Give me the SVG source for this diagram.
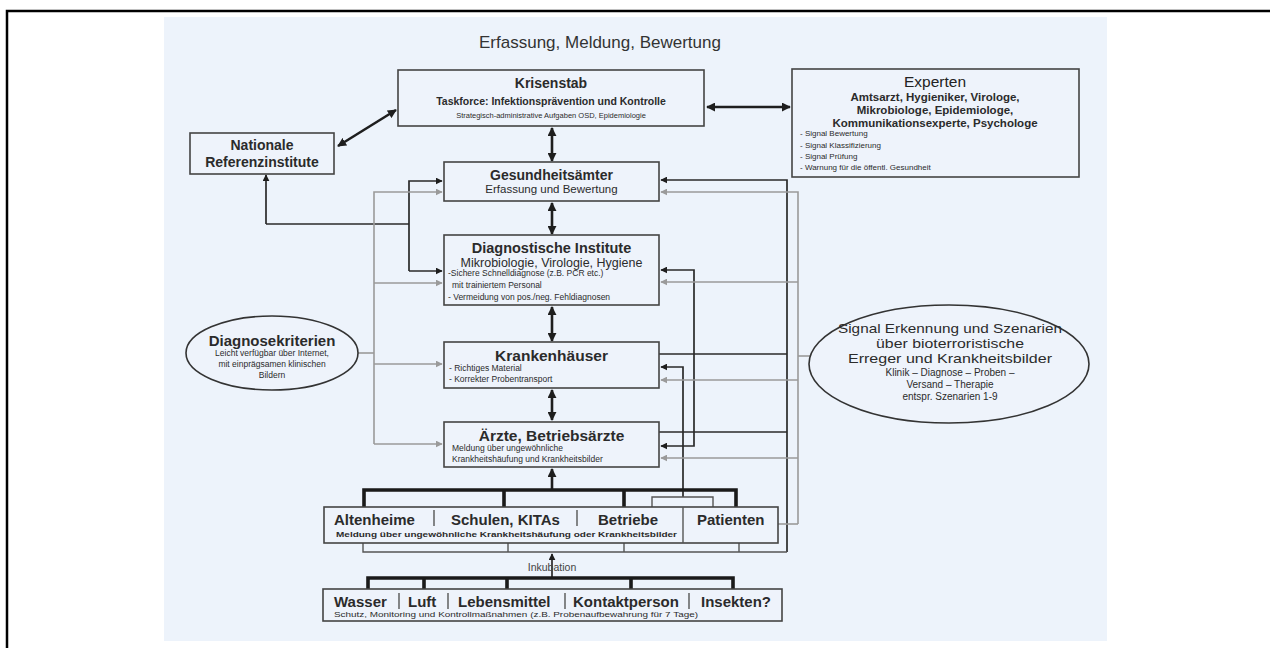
<svg xmlns="http://www.w3.org/2000/svg" width="1270" height="648" viewBox="0 0 1270 648">
<defs>
<style>
text{font-family:"Liberation Sans",Arial,sans-serif;fill:#2b2b2b}
.c{text-anchor:middle}
.b{font-weight:bold}
.box{fill:#eef3fb;stroke:#444;stroke-width:1.6}
.ell{fill:#eef3fb;stroke:#333;stroke-width:1.6}
.k{fill:none;stroke:#2a2a2a;stroke-width:1.7}
.kt{fill:none;stroke:#1e1e1e;stroke-width:2.6}
.g{fill:none;stroke:#9a9a9a;stroke-width:1.6}
.bar{fill:none;stroke:#1a1a1a;stroke-width:3.6}
.thin{fill:none;stroke:#555;stroke-width:1.4}
</style>
<marker id="ab" viewBox="0 0 10 10" refX="9" refY="5" markerWidth="7" markerHeight="7" markerUnits="userSpaceOnUse" orient="auto-start-reverse"><path d="M0,0 L10,5 L0,10 z" fill="#1e1e1e"/></marker>
<marker id="abig" viewBox="0 0 10 10" refX="9" refY="5" markerWidth="9" markerHeight="9" markerUnits="userSpaceOnUse" orient="auto-start-reverse"><path d="M0,0 L10,5 L0,10 z" fill="#1e1e1e"/></marker>
<marker id="ag" viewBox="0 0 10 10" refX="9" refY="5" markerWidth="7" markerHeight="7" markerUnits="userSpaceOnUse" orient="auto-start-reverse"><path d="M0,0 L10,5 L0,10 z" fill="#9a9a9a"/></marker>
</defs>
<rect x="0" y="0" width="1270" height="648" fill="#ffffff"/>
<path d="M7,648 V11 H1270" fill="none" stroke="#000" stroke-width="2.5"/>
<rect x="164" y="17" width="943" height="624" fill="#edf3fb"/>
<text class="c" x="600" y="48" font-size="17" style="fill:#333">Erfassung, Meldung, Bewertung</text>

<g id="connectors">
<line class="kt" x1="338" y1="146" x2="396" y2="110" marker-start="url(#abig)" marker-end="url(#abig)"/>
<line class="kt" x1="707" y1="107" x2="790" y2="107" marker-start="url(#abig)" marker-end="url(#abig)"/>
<line class="kt" x1="552" y1="128" x2="552" y2="161" marker-start="url(#abig)" marker-end="url(#abig)"/>
<line class="kt" x1="552" y1="203" x2="552" y2="234" marker-start="url(#abig)" marker-end="url(#abig)"/>
<line class="kt" x1="552" y1="307" x2="552" y2="341" marker-start="url(#abig)" marker-end="url(#abig)"/>
<line class="kt" x1="552" y1="390" x2="552" y2="420" marker-start="url(#abig)" marker-end="url(#abig)"/>
<line class="kt" x1="552" y1="490" x2="552" y2="469" marker-end="url(#abig)"/>
<line class="k" x1="552" y1="578" x2="552" y2="554" marker-end="url(#ab)"/>
<path class="k" d="M266,224 V175" marker-end="url(#ab)"/>
<path class="k" d="M266,224 H409"/>
<path class="k" d="M409,271 V181 H442" marker-end="url(#ab)"/>
<path class="k" d="M409,271 H442" marker-end="url(#ab)"/>
<path class="g" d="M374,444 V192 H442" marker-end="url(#ag)"/>
<path class="g" d="M374,283 H442" marker-end="url(#ag)"/>
<path class="g" d="M374,364 H442" marker-end="url(#ag)"/>
<path class="g" d="M374,444 H442" marker-end="url(#ag)"/>
<path class="g" d="M358,353 H374"/>
<path class="k" d="M787,552 V180 H661" marker-end="url(#ab)"/>
<path class="k" d="M659,354 H787"/>
<path class="k" d="M659,432 H787"/>
<path class="k" d="M661,270 H694 V446 H661" marker-start="url(#ab)" marker-end="url(#ab)"/>
<path class="k" d="M683,497 V367 H661" marker-end="url(#ab)"/>
<path class="g" d="M798,524 V192 H661" marker-end="url(#ag)"/>
<path class="g" d="M798,282 H661" marker-end="url(#ag)"/>
<path class="g" d="M798,380 H661" marker-end="url(#ag)"/>
<path class="g" d="M798,458 H661" marker-end="url(#ag)"/>
<path class="g" d="M810,356 H798"/>
<path class="g" d="M778,524 H798"/>
<path class="bar" d="M364,507 V490 H736 V507 M504,490 V507 M624,490 V507"/>
<path class="thin" d="M652,507 V497 H713 V507"/>
<path class="thin" d="M363,543 V552 H787 M508,543 V552 M624,543 V552 M739,543 V552"/>
<path class="bar" d="M368,589 V578 H733 V589 M424,578 V589 M507,578 V589 M631,578 V589"/>
</g>

<g id="krisenstab">
<rect class="box" x="398" y="70" width="306" height="56"/>
<text class="c b" x="551" y="88" font-size="14">Krisenstab</text>
<text class="c b" x="551" y="105" font-size="10.5">Taskforce: Infektionsprävention und Kontrolle</text>
<text class="c" x="551" y="118" font-size="7.5">Strategisch-administrative Aufgaben OSD,  Epidemiologie</text>
</g>

<g id="experten">
<rect class="box" x="792" y="69" width="287" height="108"/>
<text class="c" x="935" y="87" font-size="15.5" style="fill:#222">Experten</text>
<text class="c b" x="935" y="101" font-size="11.5">Amtsarzt, Hygieniker, Virologe,</text>
<text class="c b" x="935" y="114" font-size="11.5">Mikrobiologe, Epidemiologe,</text>
<text class="c b" x="935" y="127" font-size="11.5">Kommunikationsexperte,  Psychologe</text>
<text x="800" y="136" font-size="8">- Signal Bewertung</text>
<text x="800" y="148" font-size="8">- Signal Klassifizierung</text>
<text x="800" y="159" font-size="8">- Signal Prüfung</text>
<text x="800" y="170" font-size="8">- Warnung für die öffentl.  Gesundheit</text>
</g>

<g id="nationale">
<rect class="box" x="190" y="133" width="144" height="41"/>
<text class="c b" x="262" y="150" font-size="14">Nationale</text>
<text class="c b" x="262" y="167" font-size="14">Referenzinstitute</text>
</g>

<g id="gesundheitsaemter">
<rect class="box" x="444" y="162" width="215" height="39"/>
<text class="c b" x="551.5" y="180" font-size="14">Gesundheitsämter</text>
<text class="c" x="551.5" y="193" font-size="11.5">Erfassung und Bewertung</text>
</g>

<g id="diagnostische">
<rect class="box" x="444" y="235" width="215" height="70"/>
<text class="c b" x="551.5" y="253" font-size="14.5">Diagnostische Institute</text>
<text class="c" x="551.5" y="266.5" font-size="12.5">Mikrobiologie, Virologie, Hygiene</text>
<text x="448" y="275.5" font-size="8.5">-Sichere Schnelldiagnose (z.B. PCR etc.)</text>
<text x="452" y="288" font-size="8.5">mit trainiertem Personal</text>
<text x="448" y="299.5" font-size="8.5">- Vermeidung von pos./neg. Fehldiagnosen</text>
</g>

<g id="krankenhaeuser">
<rect class="box" x="444" y="342" width="215" height="46"/>
<text class="c b" x="551.5" y="360.5" font-size="15.5">Krankenhäuser</text>
<text x="449" y="370.5" font-size="8.5">- Richtiges Material</text>
<text x="449" y="381.5" font-size="8.5">- Korrekter Probentransport</text>
</g>

<g id="aerzte">
<rect class="box" x="444" y="422" width="215" height="45"/>
<text class="c b" x="551.5" y="440.5" font-size="15.5">Ärzte, Betriebsärzte</text>
<text x="452" y="450.5" font-size="8.5">Meldung über ungewöhnliche</text>
<text x="452" y="461.5" font-size="8.5">Krankheitshäufung und Krankheitsbilder</text>
</g>

<g id="diagnosekriterien">
<ellipse class="ell" cx="272" cy="353" rx="86" ry="37"/>
<text class="c b" x="272" y="345.5" font-size="15">Diagnosekriterien</text>
<text class="c" x="272" y="356" font-size="8.5">Leicht verfügbar über Internet,</text>
<text class="c" x="272" y="367" font-size="8.5">mit einprägsamen klinischen</text>
<text class="c" x="272" y="378" font-size="8.5">Bildern</text>
</g>

<g id="signal">
<ellipse class="ell" cx="949" cy="364" rx="140" ry="59"/>
<text class="c" x="950" y="333" font-size="13.5" textLength="224" lengthAdjust="spacingAndGlyphs">Signal Erkennung und Szenarien</text>
<text class="c" x="950" y="348" font-size="13.5" textLength="148" lengthAdjust="spacingAndGlyphs">über bioterroristische</text>
<text class="c" x="950" y="363" font-size="13.5" textLength="204" lengthAdjust="spacingAndGlyphs">Erreger und Krankheitsbilder</text>
<text class="c" x="950" y="375.5" font-size="10">Klinik – Diagnose – Proben –</text>
<text class="c" x="950" y="387.5" font-size="10">Versand  – Therapie</text>
<text class="c" x="950" y="399.5" font-size="10">entspr. Szenarien 1-9</text>
</g>

<g id="einrichtungen">
<rect class="box" x="324" y="507" width="454" height="36"/>
<line class="thin" x1="683" y1="507" x2="683" y2="543"/>
<line class="thin" x1="434" y1="510" x2="434" y2="526"/>
<line class="thin" x1="577" y1="510" x2="577" y2="526"/>
<text class="b" x="334" y="525" font-size="15">Altenheime</text>
<text class="b" x="451" y="525" font-size="15">Schulen, KITAs</text>
<text class="b" x="598" y="525" font-size="15">Betriebe</text>
<text class="b" x="697" y="525" font-size="15">Patienten</text>
<text class="b" x="336" y="537" font-size="8" textLength="341" lengthAdjust="spacingAndGlyphs">Meldung über ungewöhnliche Krankheitshäufung oder Krankheitsbilder</text>
</g>

<g id="inkubation">
<text class="c" x="552" y="571" font-size="10.5" style="fill:#444">Inkubation</text>
</g>

<g id="quellen">
<rect class="box" x="323" y="589" width="459" height="32"/>
<line class="thin" x1="399" y1="593" x2="399" y2="609"/>
<line class="thin" x1="448" y1="593" x2="448" y2="609"/>
<line class="thin" x1="565" y1="593" x2="565" y2="609"/>
<line class="thin" x1="689" y1="593" x2="689" y2="609"/>
<text class="b" x="334" y="607" font-size="15">Wasser</text>
<text class="b" x="408" y="607" font-size="15">Luft</text>
<text class="b" x="458" y="607" font-size="15">Lebensmittel</text>
<text class="b" x="573" y="607" font-size="15">Kontaktperson</text>
<text class="b" x="701" y="607" font-size="15">Insekten?</text>
<text x="334" y="617" font-size="7.5" textLength="364" lengthAdjust="spacingAndGlyphs">Schutz, Monitoring und Kontrollmaßnahmen (z.B. Probenaufbewahrung für 7 Tage)</text>
</g>
</svg>
